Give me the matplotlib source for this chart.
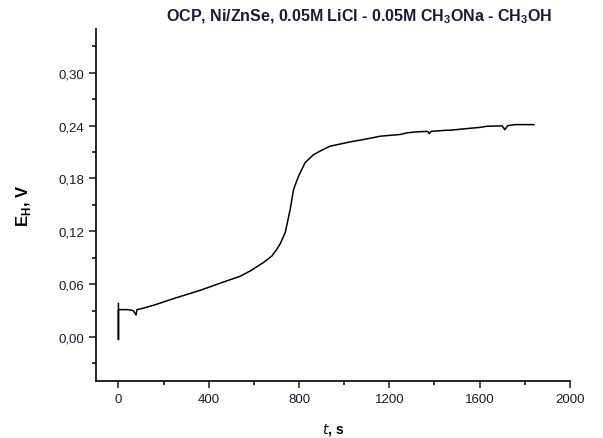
import matplotlib.pyplot as plt
from matplotlib.ticker import MultipleLocator, FuncFormatter

plt.rcParams['font.family'] = ['Liberation Sans', 'DejaVu Sans']

# OCP data
t = [0, 0, 0, 40, 65, 78, 82, 100, 156, 250, 363, 450, 540, 584, 643, 680, 702,
     717, 739, 761, 776, 798, 827, 864, 900, 938, 1027, 1080, 1137, 1159, 1248,
     1277, 1322, 1370, 1377, 1385, 1454, 1469, 1543, 1600, 1631, 1700, 1712,
     1725, 1757, 1841]
E = [0.038, -0.003, 0.031, 0.031, 0.030, 0.025, 0.031, 0.032, 0.036, 0.044,
     0.053, 0.061, 0.069, 0.075, 0.0846, 0.092, 0.0997, 0.106, 0.1186, 0.145,
     0.1676, 0.1827, 0.198, 0.207, 0.212, 0.2167, 0.2216, 0.224, 0.2268, 0.228,
     0.230, 0.2318, 0.233, 0.2335, 0.231, 0.2335, 0.2348, 0.2348, 0.2367,
     0.238, 0.2393, 0.2398, 0.2355, 0.240, 0.2412, 0.2412]

fig = plt.figure(figsize=(6.03, 4.39), dpi=100)
ax = fig.add_axes([0.159, 0.130, 0.786, 0.802])
ax.plot(t, E, color='black', linewidth=1.1)

ax.set_xlim(-100, 2000)
ax.set_ylim(-0.05, 0.35)
ax.xaxis.set_major_locator(MultipleLocator(400))
ax.xaxis.set_minor_locator(MultipleLocator(200))
ax.yaxis.set_major_locator(MultipleLocator(0.06))
ax.yaxis.set_minor_locator(MultipleLocator(0.03))
ax.yaxis.set_major_formatter(FuncFormatter(lambda v, p: f"{v:.2f}".replace('.', ',').replace('-0,00', '0,00')))
ax.set_yticks([0.0, 0.06, 0.12, 0.18, 0.24, 0.30])

for s in ['top', 'right']:
    ax.spines[s].set_visible(False)
for s in ['left', 'bottom']:
    ax.spines[s].set_linewidth(1.2)
ax.tick_params(which='major', direction='out', length=5, width=1.1, labelsize=9.5, colors='#1a1a2e')
ax.tick_params(which='minor', direction='out', length=3, width=1.1)

ax.set_xlabel(r"$\mathit{t}$, s", fontsize=10, fontweight='bold', labelpad=12)
ax.set_ylabel(r"E$_\mathregular{H}$, V", fontsize=12, fontweight='bold', labelpad=18)
fig.text(0.595, 0.962, r"OCP, Ni/ZnSe, 0.05M LiCl - 0.05M CH$_\mathregular{3}$ONa - CH$_\mathregular{3}$OH",
         ha='center', va='center', fontsize=11.5, fontweight='bold', color='#1a1a3a')

fig.savefig('out.png', dpi=100)
